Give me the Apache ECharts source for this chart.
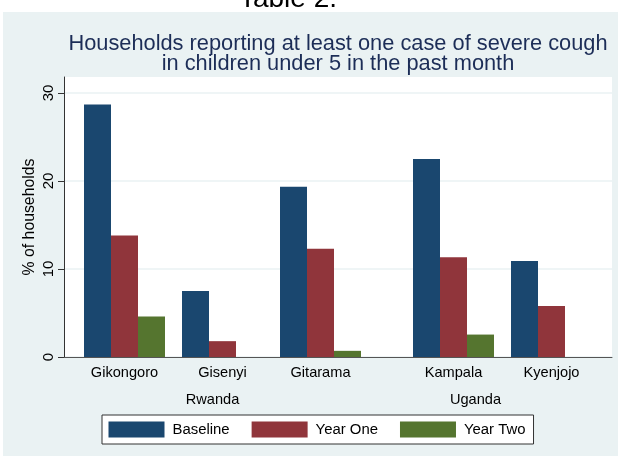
<!DOCTYPE html>
<html>
<head>
<meta charset="utf-8">
<script src="https://cdn.jsdelivr.net/npm/echarts@6/dist/echarts.min.js"></script>
<style>
html,body{margin:0;padding:0;background:#fff;}
#chart{width:618px;height:456px;}
</style>
</head>
<body>
<div id="chart"></div>
<script>
// ---- data ----
var rwandaDistricts = ['Gikongoro', 'Gisenyi', 'Gitarama'];
var ugandaDistricts = ['Kampala', 'Kyenjojo'];
var countries = ['Rwanda', 'Uganda'];
var seriesNames = ['Baseline', 'Year One', 'Year Two'];
var baseline = [28.7, 7.5, 19.35, 22.5, 10.9];
var yearOne  = [13.8, 1.8, 12.3, 11.35, 5.8];
var yearTwo  = [4.6, 0, 0.7, 2.55, 0];
var yTicks = [0, 10, 20, 30];

// ---- styles ----
var colors = ['#1a476f', '#90353b', '#55752f'];
var FONT = 'Liberation Sans, Arial, sans-serif';
var yMax = 31.82;
var values = [baseline, yearOne, yearTwo];
var nR = rwandaDistricts.length;

var chart = echarts.init(document.getElementById('chart'), null, {renderer: 'canvas'});

var series = [];
seriesNames.forEach(function (name, i) {
  series.push({
    name: name, type: 'bar', xAxisIndex: 0, yAxisIndex: 0,
    data: values[i].slice(0, nR), barWidth: 27, barGap: '0%',
    itemStyle: {color: colors[i]}, silent: true
  });
  series.push({
    name: name, type: 'bar', xAxisIndex: 1, yAxisIndex: 1,
    data: values[i].slice(nR), barWidth: 27, barGap: '0%',
    itemStyle: {color: colors[i]}, silent: true
  });
});

var catLabel = {fontFamily: FONT, fontSize: 14.6, color: '#000', margin: 8};

chart.setOption({
  backgroundColor: '#fff',
  animation: false,
  graphic: [{
    type: 'rect', z: -100, silent: true,
    shape: {x: 3, y: 12, width: 615, height: 444},
    style: {fill: '#eaf2f3'}
  }],
  title: [{
    text: 'Table 2.',
    left: 288, top: -15, textAlign: 'center',
    padding: 0,
    textStyle: {fontFamily: FONT, fontSize: 28, fontWeight: 'normal', color: '#000'}
  }, {
    text: 'Households reporting at least one case of severe cough\nin children under 5 in the past month',
    left: 338, top: 34, textAlign: 'center',
    padding: 0,
    textStyle: {fontFamily: FONT, fontSize: 21.8, fontWeight: 'normal', color: '#1c2d57', lineHeight: 20}
  }],
  legend: {
    data: seriesNames,
    left: 102, top: 415,
    orient: 'horizontal',
    itemWidth: 56, itemHeight: 16, itemGap: 22,
    padding: [6.5, 8, 6.5, 6.5],
    backgroundColor: '#fff',
    borderColor: '#333', borderWidth: 1, borderRadius: 0,
    icon: 'rect',
    selectedMode: false,
    textStyle: {fontFamily: FONT, fontSize: 14.9, color: '#000', padding: [0, 0, 0, 3]}
  },
  grid: [
    {left: 75.5, width: 294, top: 77, bottom: 99, containLabel: false},
    {left: 404.5, width: 196, top: 77, bottom: 99, containLabel: false},
    {left: 64, right: 6, top: 77, bottom: 99, show: true, backgroundColor: '#fff', borderWidth: 0, containLabel: false}
  ],
  xAxis: [
    {
      type: 'category', gridIndex: 0, data: rwandaDistricts,
      axisLine: {show: false}, axisTick: {show: false}, axisLabel: catLabel,
      name: countries[0], nameLocation: 'middle', nameGap: 35, nameMoveOverlap: false,
      nameTextStyle: {fontFamily: FONT, fontSize: 14.6, color: '#000', padding: [0, 20, 0, 0]}
    },
    {
      type: 'category', gridIndex: 1, data: ugandaDistricts,
      axisLine: {show: false}, axisTick: {show: false}, axisLabel: catLabel,
      name: countries[1], nameLocation: 'middle', nameGap: 35, nameMoveOverlap: false,
      nameTextStyle: {fontFamily: FONT, fontSize: 14.6, color: '#000', padding: [0, 54, 0, 0]}
    },
    {
      type: 'value', gridIndex: 2, min: 0, max: 1,
      axisLine: {show: true, lineStyle: {color: '#555', width: 1}},
      axisTick: {show: false}, axisLabel: {show: false}, splitLine: {show: false}
    }
  ],
  yAxis: [
    {type: 'value', gridIndex: 0, min: 0, max: yMax, show: false, splitLine: {show: false}},
    {type: 'value', gridIndex: 1, min: 0, max: yMax, show: false, splitLine: {show: false}},
    {
      type: 'value', gridIndex: 2, min: 0, max: yMax, interval: 10,
      axisLine: {show: true, lineStyle: {color: '#333', width: 1}},
      axisTick: {show: true, length: 6, inside: false, lineStyle: {color: '#333'}, customValues: yTicks},
      axisLabel: {
        fontFamily: FONT, fontSize: 15, color: '#000', rotate: 90, margin: 8,
        customValues: yTicks
      },
      splitLine: {show: true, lineStyle: {color: '#eaf2f3', width: 1.5}},
      name: '% of households', nameLocation: 'middle', nameGap: 26, nameRotate: 90,
      nameMoveOverlap: false,
      nameTextStyle: {fontFamily: FONT, fontSize: 15.8, color: '#000'}
    }
  ],
  series: series
});
</script>
</body>
</html>
